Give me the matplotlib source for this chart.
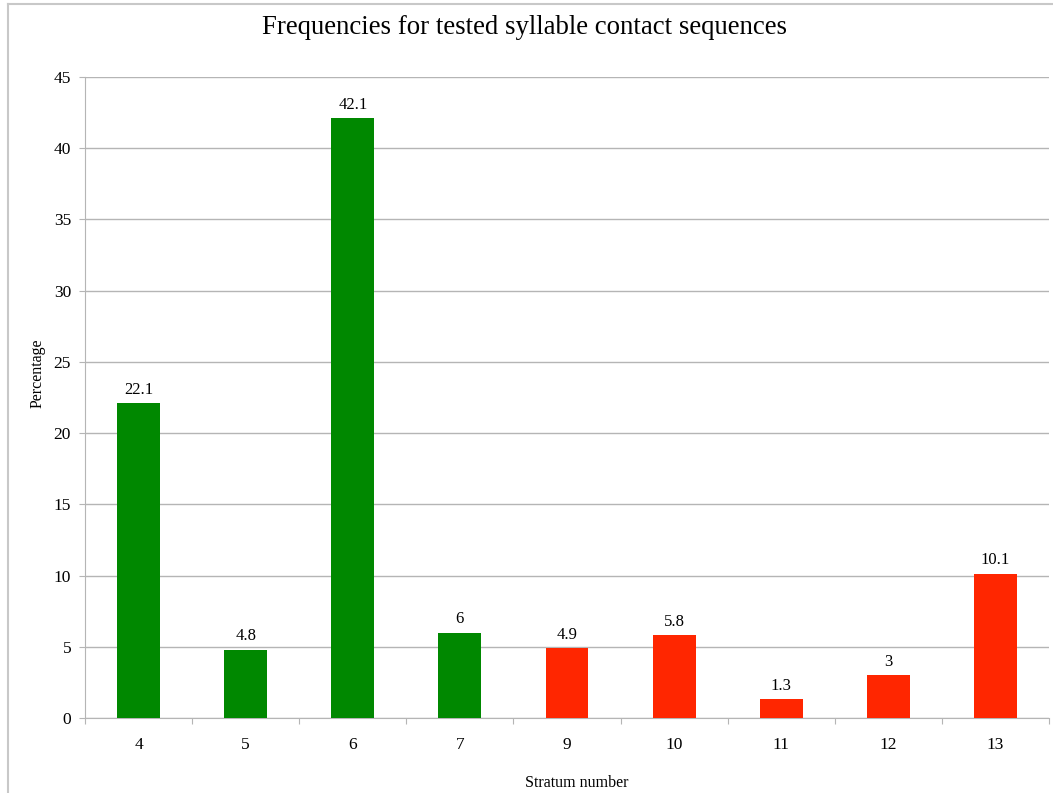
import matplotlib.pyplot as plt
from matplotlib.lines import Line2D

# stratum numbers and the share of sequences in each
strata = ["4", "5", "6", "7", "9", "10", "11", "12", "13"]
percent = [22.1, 4.8, 42.1, 6, 4.9, 5.8, 1.3, 3, 10.1]
bar_colors = ["#008800"] * 4 + ["#ff2600"] * 5

plt.rcParams['font.family'] = ['Liberation Serif', 'DejaVu Serif']

fig = plt.figure(figsize=(10.53, 7.93), dpi=100)
ax = fig.add_axes([85 / 1053, 1 - 718 / 793, 964 / 1053, 641 / 793])

x = range(len(strata))
ax.bar(x, percent, width=0.4, color=bar_colors, zorder=3)
for xi, v in zip(x, percent):
    ax.text(xi, v + 0.4, f"{v:g}", ha="center", va="bottom", fontsize=12)

ax.set_xlim(-0.5, len(strata) - 0.5)
ax.set_ylim(0, 45)
ax.set_yticks(range(0, 46, 5))
ax.grid(axis="y", color="#b5b5b5", linewidth=1, zorder=0)

# ticks sit on the category boundaries, labels in the middle
ax.set_xticks([i - 0.5 for i in range(len(strata) + 1)])
ax.set_xticklabels([])
ax.set_xticks(list(x), minor=True)
ax.set_xticklabels(strata, minor=True)
ax.tick_params(axis="x", which="major", length=4, color="#b5b5b5")
ax.tick_params(axis="x", which="minor", length=0, pad=14, labelsize=12.5)
ax.tick_params(axis="y", length=4, color="#b5b5b5", labelsize=12.5, pad=6)

for side in ("top", "right"):
    ax.spines[side].set_visible(False)
for side in ("left", "bottom"):
    ax.spines[side].set_color("#b5b5b5")

fig.text(38 / 1053, 1 - 373 / 793, "Percentage", rotation=90,
         ha="center", va="center", fontsize=11.5)
fig.text(577 / 1053, 1 - 783 / 793, "Stratum number",
         ha="center", va="center", fontsize=11.5)
fig.text(525 / 1053, 1 - 28 / 793, "Frequencies for tested syllable contact sequences",
         ha="center", va="center", fontsize=19.3)

# chart frame along the left and top edges
fig.add_artist(Line2D([8 / 1053, 8 / 1053], [0, 1 - 4 / 793], color="#c8c8c8", linewidth=1.5,
                      transform=fig.transFigure))
fig.add_artist(Line2D([8 / 1053, 1], [1 - 4 / 793, 1 - 4 / 793], color="#c8c8c8", linewidth=1.5,
                      transform=fig.transFigure))

fig.savefig("out.png", dpi=100)
